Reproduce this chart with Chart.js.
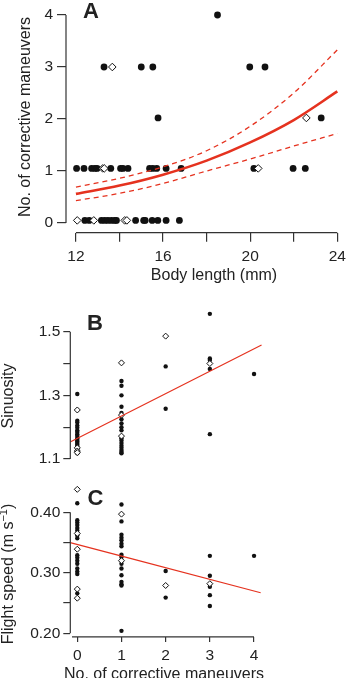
<!DOCTYPE html>
<html><head><meta charset="utf-8">
<script src="https://cdn.jsdelivr.net/npm/chart.js@4.4.1/dist/chart.umd.min.js"></script>
<style>
html,body{margin:0;padding:0;background:#fff;width:350px;height:678px;overflow:hidden}
canvas{position:absolute;left:0;top:0}
</style></head><body>
<canvas id="cA" width="350" height="678"></canvas>
<canvas id="cB" width="350" height="678"></canvas>
<canvas id="cC" width="350" height="678"></canvas>
<script>
// ---------- Panel A: corrective maneuvers vs body length ----------
const aDotLength = [12.03,12.37,12.72,12.87,12.97,13.6,14.05,14.16,14.39,15.38,15.53,15.71,16.14,16.83,20.17,21.97,22.53,
  12.41,12.61,13.17,13.32,13.47,13.63,13.78,13.86,14.74,15.11,15.18,15.5,15.76,16.14,16.75,
  13.29,15.0,15.53,19.98,20.68,
  15.77,23.26,
  18.5];
const aDotCount = [1.05,1.05,1.05,1.05,1.05,1.05,1.05,1.05,1.05,1.05,1.05,1.05,1.05,1.05,1.05,1.05,1.05,
  0.05,0.05,0.05,0.05,0.05,0.05,0.05,0.05,0.05,0.05,0.05,0.05,0.05,0.05,0.05,
  3,3,3,3,3,
  2.02,2.02,
  4];
const aDiamondLength = [13.23,13.3,20.37,12.06,12.82,14.24,14.34,13.67,22.58];
const aDiamondCount  = [1.05,1.05,1.05,0.05,0.05,0.05,0.05,3,2.02];
const fitLength = [12,14,16,18,20,22,24];
const fitMean   = [0.56,0.72,0.93,1.2,1.55,1.98,2.53];
const fitUpper  = [0.69,0.86,1.08,1.39,1.86,2.5,3.33];
const fitLower  = [0.43,0.57,0.76,1.0,1.23,1.48,1.72];
const aXTicks = [12,14,16,18,20,22,24];
const aXTickLabels = ['12','','16','','20','','24'];
const aYTicks = [0,1,2,3,4];
const aYTickLabels = ['0','1','2','3','4'];

// ---------- Panel B: sinuosity vs maneuvers ----------
const bDotManeuvers = [0,0,0,0,0,0,0,0,0,0,0,0,0,0,0,0,0,
  1,1,1,1,1,1,1,1,1,1,1,1,1,1,1,1,1,
  2,2, 3,3,3,3,3, 4];
const bDotSinuosity = [1.304,1.22,1.215,1.205,1.198,1.19,1.185,1.178,1.172,1.165,1.16,1.155,1.15,1.145,1.14,1.13,1.118,
  1.345,1.33,1.30,1.264,1.245,1.225,1.212,1.2,1.19,1.165,1.158,1.15,1.142,1.135,1.128,1.122,1.118,
  1.391,1.258, 1.556,1.416,1.411,1.383,1.178, 1.367];
const bDiamondManeuvers = [0,0,0,0,1,1,1,2,3];
const bDiamondSinuosity = [1.254,1.135,1.125,1.12,1.402,1.238,1.172,1.486,1.40];
const bLineX = [-0.15,4.17];
const bLineY = [1.154,1.458];
const bYTicks = [1.1,1.2,1.3,1.4,1.5];
const bYTickLabels = ['1.1','','1.3','','1.5'];

// ---------- Panel C: flight speed vs maneuvers ----------
const cDotManeuvers = [0,0,0,0,0,0,0,0,0,0,0,0,0,0,0,0,
  1,1,1,1,1,1,1,1,1,1,1,1,1,1,1,1,
  2,2, 3,3,3,3,3, 4];
const cDotSpeed = [0.415,0.387,0.383,0.379,0.374,0.37,0.362,0.357,0.329,0.325,0.32,0.315,0.307,0.302,0.298,0.266,
  0.413,0.385,0.363,0.358,0.354,0.348,0.344,0.33,0.326,0.315,0.307,0.296,0.285,0.281,0.279,0.204,
  0.303,0.259, 0.328,0.295,0.277,0.263,0.245, 0.328];
const cDiamondManeuvers = [0,0,0,0,0,1,1,2,3];
const cDiamondSpeed = [0.438,0.365,0.339,0.273,0.258,0.397,0.32,0.279,0.282];
const cLineX = [-0.16,4.15];
const cLineY = [0.35,0.267];
const cXTicks = [0,1,2,3,4];
const cXTickLabels = ['0','1','2','3','4'];
const cYTicks = [0.20,0.25,0.30,0.35,0.40];
const cYTickLabels = ['0.20','','0.30','','0.40'];

// ---------- helpers ----------
const FONT = '"Liberation Sans", Arial, Helvetica, sans-serif';
const AXIS = '#333';
const RED = '#e5321f';
const zip = (xs, ys) => xs.map((x, i) => ({x, y: ys[i]}));

const deco = {
  id: 'deco',
  afterDraw(chart, args, o) {
    const ctx = chart.ctx, xs = chart.scales.x, ys = chart.scales.y, ca = chart.chartArea;
    ctx.save();
    ctx.strokeStyle = AXIS; ctx.lineWidth = 1.2;
    if (o.yLine) {
      ctx.beginPath();
      ctx.moveTo(ca.left, ys.getPixelForValue(o.yLine[0]));
      ctx.lineTo(ca.left, ys.getPixelForValue(o.yLine[1]));
      ctx.stroke();
    }
    if (o.xLine) {
      ctx.beginPath();
      ctx.moveTo(xs.getPixelForValue(o.xLine[0]), ca.bottom);
      ctx.lineTo(xs.getPixelForValue(o.xLine[1]), ca.bottom);
      ctx.stroke();
    }
    ctx.fillStyle = '#222';
    if (o.letter) {
      ctx.font = 'bold 22px ' + FONT;
      ctx.textAlign = 'center'; ctx.textBaseline = 'middle';
      ctx.fillText(o.letter, o.letterPos[0], o.letterPos[1]);
    }
    if (o.xTitle) {
      ctx.font = '16px ' + FONT;
      ctx.textAlign = 'center'; ctx.textBaseline = 'middle';
      ctx.fillText(o.xTitle, o.xTitlePos[0], o.xTitlePos[1]);
    }
    if (o.yTitle) {
      ctx.save();
      ctx.translate(o.yTitlePos[0], o.yTitlePos[1]);
      ctx.rotate(-Math.PI / 2);
      ctx.textBaseline = 'middle'; ctx.textAlign = 'left';
      const parts = o.yTitle;
      let total = 0;
      parts.forEach(p => { ctx.font = p[1] + 'px ' + FONT; total += ctx.measureText(p[0]).width; });
      let cx = -total / 2;
      parts.forEach(p => {
        ctx.font = p[1] + 'px ' + FONT;
        ctx.fillText(p[0], cx, p[2]);
        cx += ctx.measureText(p[0]).width;
      });
      ctx.restore();
    }
    ctx.restore();
  }
};

function scaleOpts(min, max, ticks, labels, fit, tickLen, pad, display = true, lh = 1.2) {
  return {
    type: 'linear', min, max, display,
    afterBuildTicks: s => { s.ticks = ticks.map(v => ({value: v})); },
    afterFit: fit,
    ticks: {
      autoSkip: false, maxRotation: 0, padding: pad, color: '#222',
      font: {family: FONT, size: 15.5, lineHeight: lh},
      callback: (v, i) => labels[i]
    },
    grid: {display: true, drawOnChartArea: false, drawTicks: true, tickLength: tickLen, color: AXIS, lineWidth: 1.2},
    border: {display: false}
  };
}

function dots(data, r) {
  return {type: 'scatter', data, pointStyle: 'circle', pointRadius: r, pointBackgroundColor: '#111',
    pointBorderWidth: 0, clip: false, order: 2};
}
function diamonds(data, r) {
  return {type: 'scatter', data, pointStyle: 'rectRot', pointRadius: r, pointBackgroundColor: '#fff',
    pointBorderColor: '#111', pointBorderWidth: 1, clip: false, order: 1};
}
function line(data, w, dash) {
  return {type: 'line', data, borderColor: RED, borderWidth: w, borderDash: dash || [], pointRadius: 0,
    fill: false, cubicInterpolationMode: 'monotone', clip: false, order: 0};
}

const common = {
  responsive: false, animation: false, devicePixelRatio: 1, events: [],
  plugins: {legend: {display: false}, tooltip: {enabled: false}}
};

// Panel A
new Chart(document.getElementById('cA'), {
  type: 'scatter',
  data: {datasets: [
    line(zip(fitLength, fitMean), 2.6),
    line(zip(fitLength, fitUpper), 1.3, [5, 4]),
    line(zip(fitLength, fitLower), 1.3, [5, 4]),
    diamonds(zip(aDiamondLength, aDiamondCount), 3.8),
    dots(zip(aDotLength, aDotCount), 3.4)
  ]},
  options: Object.assign({}, common, {
    layout: {padding: {left: 0, top: 15, right: 8.8, bottom: 678 - 232.7 - 40}},
    scales: {
      x: scaleOpts(11.544, 24.1, aXTicks, aXTickLabels, s => { s.height = 40; }, 9, 4, true, 1.45),
      y: scaleOpts(-0.1865, 4, aYTicks, aYTickLabels, s => { s.width = 66; }, 9, 4)
    },
    plugins: Object.assign({}, common.plugins, {deco: {
      letter: 'A', letterPos: [91, 11.5],
      xTitle: 'Body length (mm)', xTitlePos: [214, 276],
      yTitle: [['No. of corrective maneuvers', 16, 0]], yTitlePos: [26, 117],
      yLine: [0, 4], xLine: [12, 24]
    }})
  }),
  plugins: [deco]
});

// Panel B
new Chart(document.getElementById('cB'), {
  type: 'scatter',
  data: {datasets: [
    line(zip(bLineX, bLineY), 1.2),
    diamonds(zip(bDiamondManeuvers, bDiamondSinuosity), 3),
    dots(zip(bDotManeuvers, bDotSinuosity), 2.2)
  ]},
  options: Object.assign({}, common, {
    layout: {padding: {left: 0, top: 309.4, right: 82.7, bottom: 219}},
    scales: {
      x: scaleOpts(-0.158, 4.3, cXTicks, cXTickLabels, s => {}, 5, 3, false),
      y: scaleOpts(1.1, 1.57, bYTicks, bYTickLabels, s => { s.width = 70.3; }, 7, 3)
    },
    plugins: Object.assign({}, common.plugins, {deco: {
      letter: 'B', letterPos: [95, 324],
      yTitle: [['Sinuosity', 16, 0]], yTitlePos: [9, 396],
      yLine: [1.1, 1.5]
    }})
  }),
  plugins: [deco]
});

// Panel C
new Chart(document.getElementById('cC'), {
  type: 'scatter',
  data: {datasets: [
    line(zip(cLineX, cLineY), 1.2),
    diamonds(zip(cDiamondManeuvers, cDiamondSpeed), 3),
    dots(zip(cDotManeuvers, cDotSpeed), 2.2)
  ]},
  options: Object.assign({}, common, {
    layout: {padding: {left: 0, top: 485.1, right: 82.7, bottom: 0}},
    scales: {
      x: scaleOpts(-0.158, 4.3, cXTicks, cXTickLabels, s => { s.height = 678 - 636.9; }, 5, 5),
      y: scaleOpts(0.194, 0.445, cYTicks, cYTickLabels, s => { s.width = 70.3; }, 7, 3)
    },
    plugins: Object.assign({}, common.plugins, {deco: {
      letter: 'C', letterPos: [95.5, 499],
      xTitle: 'No. of corrective maneuvers', xTitlePos: [164, 675],
      yTitle: [['Flight speed (m s', 16, 0], ['\u22121', 11, -5], [')', 16, 0]], yTitlePos: [9, 574],
      yLine: [0.2, 0.4], xLine: [-0.12, 4]
    }})
  }),
  plugins: [deco]
});
</script>
</body></html>
